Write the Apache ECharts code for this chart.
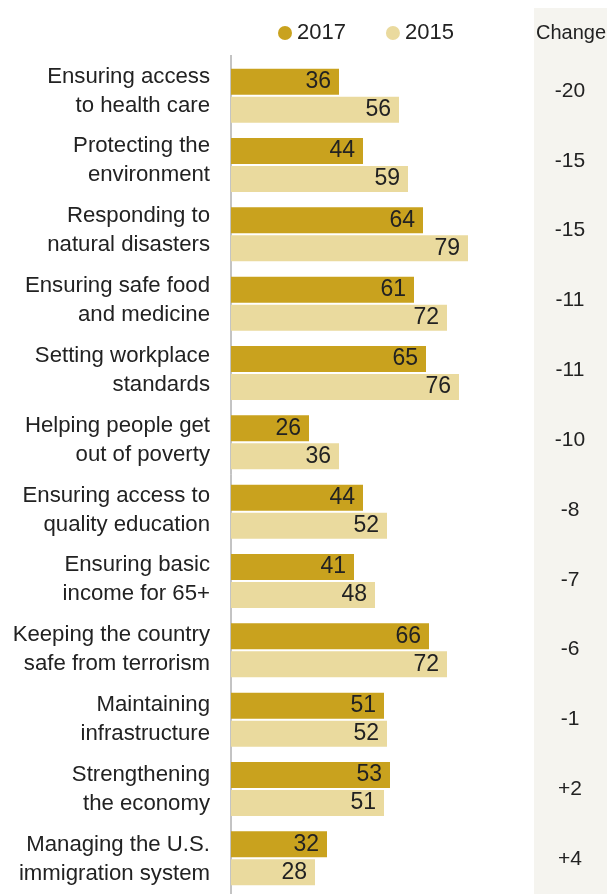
<!DOCTYPE html>
<html>
<head>
<meta charset="utf-8">
<script src="https://cdn.jsdelivr.net/npm/echarts@6/dist/echarts.min.js"></script>
<style>
  html, body { margin: 0; padding: 0; background: #fff; }
  #chart { width: 607px; height: 894px; }
</style>
</head>
<body>
<div id="chart"></div>
<script>
// Government performance areas, share rating it positively
const categories = [
  'Ensuring access\nto health care',
  'Protecting the\nenvironment',
  'Responding to\nnatural disasters',
  'Ensuring safe food\nand medicine',
  'Setting workplace\nstandards',
  'Helping people get\nout of poverty',
  'Ensuring access to\nquality education',
  'Ensuring basic\nincome for 65+',
  'Keeping the country\nsafe from terrorism',
  'Maintaining\ninfrastructure',
  'Strengthening\nthe economy',
  'Managing the U.S.\nimmigration system'
];
const values2017 = [36, 44, 64, 61, 65, 26, 44, 41, 66, 51, 53, 32];
const values2015 = [56, 59, 79, 72, 76, 36, 52, 48, 72, 52, 51, 28];
const changeLabels = ['-20', '-15', '-15', '-11', '-11', '-10', '-8', '-7', '-6', '-1', '+2', '+4'];

const FONT = '"Liberation Sans", Arial, sans-serif';
const TEXT = '#222';
const GOLD = '#C9A21E';
const SAND = '#EADA9E';

const chart = echarts.init(document.getElementById('chart'));

chart.setOption({
  animation: false,
  textStyle: { fontFamily: FONT },
  graphic: [
    {
      type: 'rect',
      z: -10,
      shape: { x: 534, y: 8, width: 73, height: 886 },
      style: { fill: '#F5F4EF' }
    },
    {
      type: 'text',
      left: 536, top: 23,
      style: { text: 'Change', font: '20px ' + FONT, fill: TEXT }
    },
    {
      type: 'line',
      shape: { x1: 231, y1: 55, x2: 231, y2: 894 },
      style: { stroke: '#888', lineWidth: 1 }
    }
  ],
  legend: {
    left: 273, top: 17,
    itemWidth: 14, itemHeight: 14,
    itemGap: 40,
    icon: 'circle',
    textStyle: { fontSize: 22, color: TEXT, fontFamily: FONT },
    data: ['2017', '2015']
  },
  // grid 0 holds the bars; grid 1 carries the row labels and the change column
  grid: [
    { left: 231, top: 61, width: 300, height: 832 },
    { left: 231, top: 56, width: 300, height: 846 }
  ],
  xAxis: [
    { gridIndex: 0, type: 'value', min: 0, max: 100, show: false },
    { gridIndex: 1, type: 'value', min: 0, max: 100, show: false }
  ],
  yAxis: [
    {
      gridIndex: 0, type: 'category', inverse: true, data: categories,
      axisLine: { show: false }, axisTick: { show: false }, axisLabel: { show: false }
    },
    {
      gridIndex: 1, type: 'category', inverse: true, data: categories,
      axisLine: { show: false }, axisTick: { show: false },
      axisLabel: {
        interval: 0, showMinLabel: true, showMaxLabel: true, hideOverlap: false,
        margin: 21, fontSize: 22.2, color: TEXT, fontFamily: FONT,
        lineHeight: 29, align: 'right', verticalAlign: 'middle'
      }
    },
    {
      gridIndex: 1, type: 'category', inverse: true, data: categories, position: 'right',
      axisLine: { show: false }, axisTick: { show: false },
      axisLabel: {
        interval: 0, showMinLabel: true, showMaxLabel: true, hideOverlap: false,
        margin: 39, fontSize: 21, color: TEXT, fontFamily: FONT, align: 'center',
        verticalAlign: 'middle', padding: [0, 0, 2, 0],
        formatter: (v, i) => changeLabels[i]
      }
    }
  ],
  series: [
    {
      name: '2017', type: 'bar', data: values2017,
      xAxisIndex: 0, yAxisIndex: 0,
      barWidth: 26, barGap: '8%',
      itemStyle: { color: GOLD },
      label: { show: true, position: 'insideRight', distance: 8, fontSize: 23, color: TEXT, fontFamily: FONT }
    },
    {
      name: '2015', type: 'bar', data: values2015,
      xAxisIndex: 0, yAxisIndex: 0,
      barWidth: 26, barGap: '8%',
      itemStyle: { color: SAND },
      label: { show: true, position: 'insideRight', distance: 8, fontSize: 23, color: TEXT, fontFamily: FONT }
    }
  ]
});
</script>
</body>
</html>
